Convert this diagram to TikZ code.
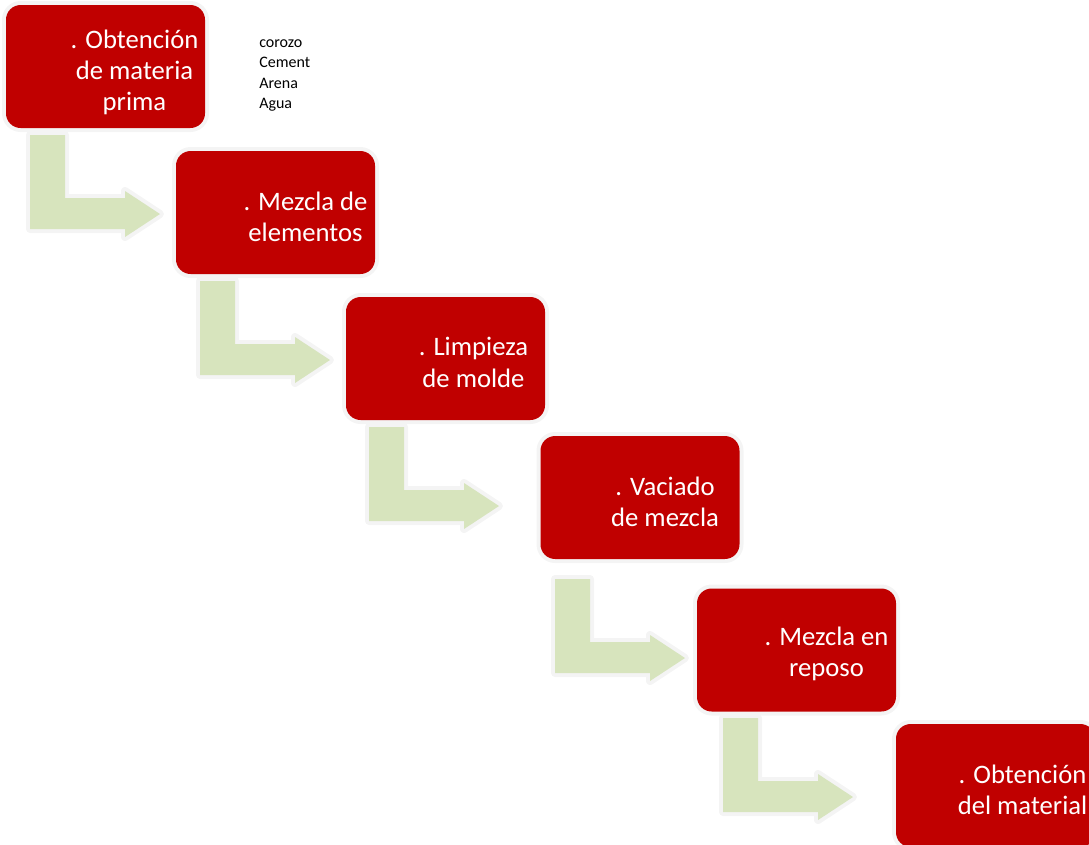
\documentclass[tikz,border=0pt]{standalone}
\usepackage{fontspec}
\setmainfont{Carlito}
\usepackage{xcolor}
\usepackage{tikz}
\usetikzlibrary{positioning}

\definecolor{boxred}{HTML}{C00000}
\definecolor{arrowgreen}{HTML}{D7E4BD}
\definecolor{halo}{HTML}{F4F4F4}

% bent arrow, #1 = its upper left corner
\newcommand{\bendarrow}[1]{%
  \fill[arrowgreen, preaction={draw=halo, line width=6pt, line join=round}]
    (#1) -- ++(35,0) -- ++(0,63) -- ++(60,0) -- ++(0,-7)
    -- ++(35,23) -- ++(-35,23) -- ++(0,-8) -- ++(-95,0) -- cycle;}

\begin{document}
\begin{tikzpicture}[x=0.75pt, y=-0.75pt,
    stepbox/.style={fill=boxred, rounded corners=11pt, inner sep=0pt,
      minimum width=149.25pt, minimum height=92.25pt,
      preaction={draw=halo, line width=6pt}},
    steptext/.style={text=white, align=center, inner sep=0pt,
      font=\fontsize{20}{23.5}\selectfont}]
  \useasboundingbox (0,0) rectangle (1089,844);

  % arrows first, boxes over them
  \coordinate (a1) at (30,135);
  \coordinate (a2) at (200,281);
  \coordinate (a3) at (369,427);
  \coordinate (a4) at (555,579);
  \coordinate (a5) at (723,718);
  \foreach \a in {a1,a2,a3,a4,a5}
    \bendarrow{\a};

  \node(b1)[stepbox] at (105.5,66.5) {};
  \node(b2)[stepbox] at (275.5,212.5) {};
  \node(b3)[stepbox] at (445.5,358.5) {};
  \node(b4)[stepbox] at (640,497.5) {};
  \node(b5)[stepbox] at (796.5,650) {};
  \node(b6)[stepbox] at (995.5,785.5) {};

  \node(t1)[steptext] at ([shift={(29,6)}]b1.center)
  {. Obtención\\de materia\\prima};
  \node(t2)[steptext] at ([shift={(30,4)}]b2.center)
  {. Mezcla de\\elementos};
  \node(t3)[steptext] at ([shift={(28,4)}]b3.center)
  {. Limpieza\\de molde};
  \node(t4)[steptext] at ([shift={(25,4)}]b4.center)
  {. Vaciado\\de mezcla};
  \node(t5)[steptext] at ([shift={(30,4)}]b5.center)
  {. Mezcla en\\reposo};
  \node(t6)[steptext] at ([shift={(27,4)}]b6.center)
  {. Obtención\\del material};

  \node(list)[anchor=north west, inner sep=0pt, align=left,
              font=\fontsize{12}{15.4}\selectfont]
    at (259,39) {corozo\\Cement\\Arena\\Agua};
\end{tikzpicture}
\end{document}
